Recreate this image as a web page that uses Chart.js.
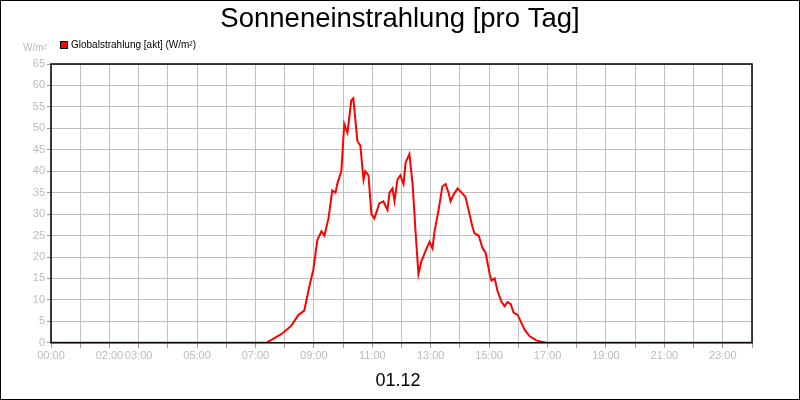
<!DOCTYPE html>
<html><head><meta charset="utf-8">
<script src="https://cdn.jsdelivr.net/npm/chart.js@4/dist/chart.umd.min.js"></script>
<style>html,body{margin:0;padding:0;background:#fff}#w{width:798px;height:398px;border:1px solid #000}</style>
</head><body><div id="w"><canvas id="c" width="798" height="398"></canvas></div>
<script>
const hours = [0,7.37,7.88,8.23,8.47,8.67,8.84,8.98,9.12,9.26,9.36,9.50,9.63,9.74,9.80,9.94,10.04,10.15,10.28,10.35,10.49,10.59,10.70,10.76,10.87,10.97,11.07,11.24,11.38,11.52,11.59,11.69,11.76,11.86,11.96,12.07,12.14,12.27,12.38,12.48,12.58,12.68,12.86,12.96,13.06,13.13,13.27,13.40,13.51,13.61,13.68,13.78,13.92,14.06,14.19,14.33,14.43,14.50,14.64,14.78,14.88,15.02,15.08,15.19,15.29,15.43,15.53,15.63,15.74,15.84,15.98,16.08,16.22,16.39,16.63,16.97,24];
const values = [0,0,2,4,6.5,7.5,13,17,24,26,25,29,35.5,35,37,40,51,49,56.5,57,47,46,38,40,39,30,29,32.5,33,31,35,36,33,38,39,37,42,44,37,26,16,19,22,23.5,22,26,31,36.5,37,35,33,34.5,36,35,34,30,27,25.5,25,22,21,16,14.5,15,12,9.5,8.5,9.5,9,7,6.5,5,3,1.5,0.5,0,0];
const tickLabels = {0:'00:00',2:'02:00',3:'03:00',5:'05:00',7:'07:00',9:'09:00',11:'11:00',13:'13:00',15:'15:00',17:'17:00',19:'19:00',21:'21:00',23:'23:00'};
const seriesName = 'Globalstrahlung [akt] (W/m²)';
const extras = {id:'extras', afterDraw(ch){
  const c=ch.ctx, a=ch.chartArea; c.save();
  c.strokeStyle='#000'; c.lineWidth=1.5; c.strokeRect(a.left,a.top,a.right-a.left,a.bottom-a.top);
  c.fillStyle='#000'; c.font='27.5px "Liberation Sans", Arial'; c.textAlign='center'; c.textBaseline='middle';
  c.fillText('Sonneneinstrahlung [pro Tag]',399,18);
  c.font='18px "Liberation Sans", Arial'; c.fillText('01.12',397,380);
  c.fillStyle='#bbb'; c.font='10px "Liberation Sans", Arial'; c.textAlign='left'; c.fillText('W/m²',22,47);
  c.fillStyle='#ff0000'; c.fillRect(59,40,8,8); c.strokeStyle='#000'; c.lineWidth=1; c.strokeRect(59.5,40.5,7,7);
  c.fillStyle='#000'; c.fillText(seriesName,70,44);
  c.restore();
}};
new Chart(document.getElementById('c'),{
  type:'line',
  data:{datasets:[{label:seriesName,data:hours.map((h,i)=>({x:h,y:values[i]})),borderColor:'#ff0000',borderWidth:2,pointRadius:0,tension:0,fill:false}]},
  options:{responsive:false,animation:false,
    layout:{padding:{left:0,right:47,top:63,bottom:34}},
    plugins:{legend:{display:false},title:{display:false},tooltip:{enabled:false}},
    scales:{
      x:{type:'linear',min:0,max:24,grid:{color:'#c0c0c0',tickLength:5,tickColor:'#999'},border:{display:false},
        ticks:{stepSize:1,autoSkip:false,maxRotation:0,color:'#bbb',font:{size:11,family:'"Liberation Sans", Arial'},padding:2,
          callback:v=>tickLabels[v]??''}},
      y:{min:0,max:65,afterFit(s){s.width=50;},grid:{color:'#c0c0c0',tickLength:4,tickColor:'#999'},border:{display:false},
        ticks:{stepSize:5,color:'#bbb',font:{size:11,family:'"Liberation Sans", Arial'},padding:2}}
    }},
  plugins:[extras]
});
</script></body></html>
